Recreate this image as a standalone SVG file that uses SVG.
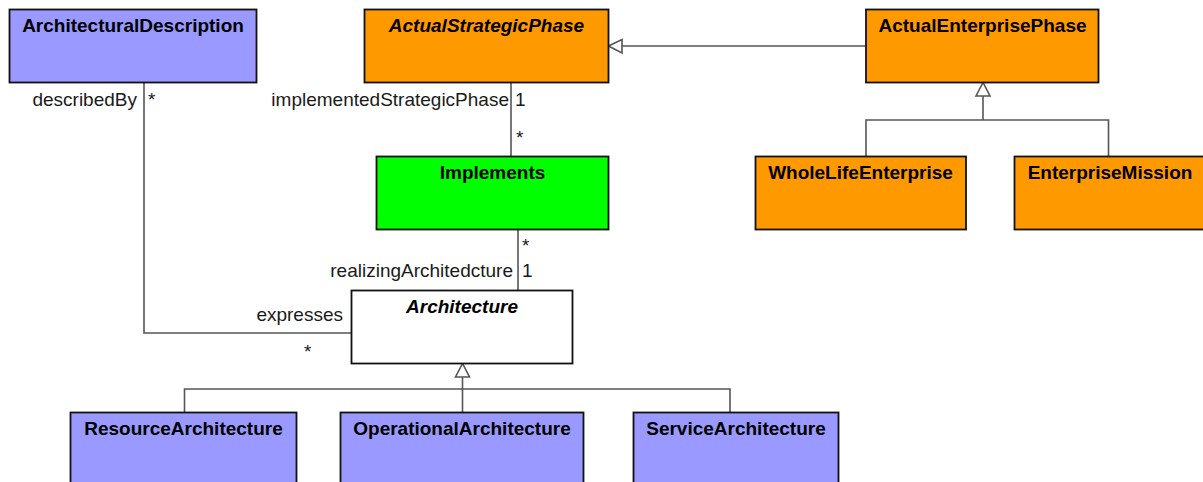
<svg xmlns="http://www.w3.org/2000/svg" width="1203" height="482" viewBox="0 0 1203 482">
<style>
.box{stroke:#111;stroke-width:1.8}
.blue{fill:#9999ff}.orange{fill:#ff9900}.green{fill:#00ff00}.white{fill:#ffffff}
.title{font-family:"Liberation Sans",Arial,sans-serif;font-size:19px;font-weight:bold;text-anchor:middle;fill:#000}
.it{font-style:italic}
.lbl{font-family:"Liberation Sans",Arial,sans-serif;font-size:19px;fill:#1a1a1a}
.end{text-anchor:end}
.conn{fill:none;stroke:#555;stroke-width:1.6}
.tri{fill:#fff;stroke:#555;stroke-width:1.6}
</style>
<rect width="1203" height="482" fill="#fff"/>
<g id="connectors">
<path class="conn" d="M144,82.5 V333 H351.5"/>
<path class="conn" d="M511,82.5 V156.5"/>
<path class="conn" d="M518,229.5 V290.5"/>
<path class="conn" d="M866,46 H622"/>
<polygon class="tri" points="608.5,46 622,39.5 622,53"/>
<path class="conn" d="M866,156.5 V120 H1108.5 V156.5"/>
<path class="conn" d="M983,120 V96"/>
<polygon class="tri" points="983,82.5 976,96 990,96"/>
<path class="conn" d="M184.5,412.5 V389 H730 V412.5"/>
<path class="conn" d="M462.5,412.5 V377"/>
<polygon class="tri" points="462.5,363.5 455.5,377 469.5,377"/>
<text class="lbl end" x="137" y="106">describedBy</text>
<text class="lbl" x="148" y="106">*</text>
<text class="lbl end" x="509" y="106">implementedStrategicPhase</text>
<text class="lbl" x="515" y="106">1</text>
<text class="lbl" x="516" y="144">*</text>
<text class="lbl" x="522" y="252">*</text>
<text class="lbl end" x="513" y="277">realizingArchitedcture</text>
<text class="lbl" x="522" y="277">1</text>
<text class="lbl end" x="343" y="321">expresses</text>
<text class="lbl" x="304" y="358">*</text>
</g>
<g id="ArchitecturalDescription">
<rect class="box blue" x="9.5" y="9.5" width="247" height="73"/>
<text class="title" x="133" y="32">ArchitecturalDescription</text>
</g>
<g id="ActualStrategicPhase">
<rect class="box orange" x="364.5" y="9.5" width="244" height="73"/>
<text class="title it" x="486.5" y="32">ActualStrategicPhase</text>
</g>
<g id="ActualEnterprisePhase">
<rect class="box orange" x="866" y="9.5" width="232.5" height="73"/>
<text class="title" x="982.5" y="32">ActualEnterprisePhase</text>
</g>
<g id="Implements">
<rect class="box green" x="376.5" y="156.5" width="232" height="73"/>
<text class="title" x="492.5" y="179">Implements</text>
</g>
<g id="WholeLifeEnterprise">
<rect class="box orange" x="755.5" y="156.5" width="210.5" height="73"/>
<text class="title" x="860.5" y="179">WholeLifeEnterprise</text>
</g>
<g id="EnterpriseMission">
<rect class="box orange" x="1014.5" y="156.5" width="192" height="73"/>
<text class="title" x="1110" y="179">EnterpriseMission</text>
</g>
<g id="Architecture">
<rect class="box white" x="351.5" y="290.5" width="221" height="73"/>
<text class="title it" x="462" y="313">Architecture</text>
</g>
<g id="ResourceArchitecture">
<rect class="box blue" x="70.5" y="412.5" width="226" height="80"/>
<text class="title" x="183.5" y="435">ResourceArchitecture</text>
</g>
<g id="OperationalArchitecture">
<rect class="box blue" x="340.5" y="412.5" width="243" height="80"/>
<text class="title" x="462" y="435">OperationalArchitecture</text>
</g>
<g id="ServiceArchitecture">
<rect class="box blue" x="633.5" y="412.5" width="205" height="80"/>
<text class="title" x="736" y="435">ServiceArchitecture</text>
</g>
</svg>
